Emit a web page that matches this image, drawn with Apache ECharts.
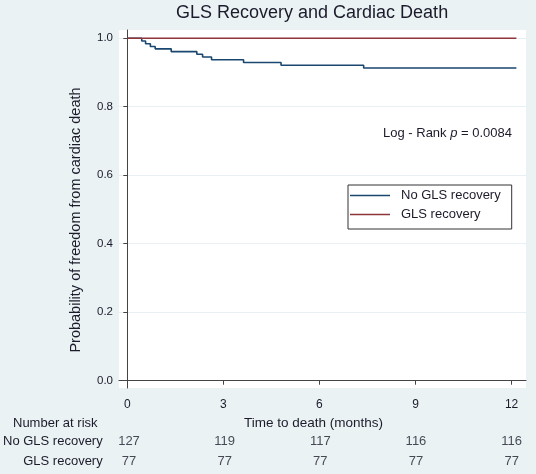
<!DOCTYPE html>
<html>
<head>
<meta charset="utf-8">
<script src="https://cdn.jsdelivr.net/npm/echarts@6/dist/echarts.min.js"></script>
<style>html,body{margin:0;padding:0;background:#eaf2f4;}#c{width:536px;height:474px;}</style>
</head>
<body>
<div id="c"></div>
<script>
// Kaplan-Meier estimates
const noRecTimes = [0, 0.45, 0.57, 0.72, 0.87, 1.37, 2.17, 2.35, 2.63, 3.63, 4.80, 7.38, 12.15];
const noRecSurv  = [1.000, 0.992, 0.984, 0.976, 0.969, 0.961, 0.953, 0.945, 0.937, 0.929, 0.921, 0.913, 0.913];
const recTimes = [0, 12.15];
const recSurv  = [1.000, 1.000];
const xTicks = [0, 3, 6, 9, 12];
const yTicks = [0, 0.2, 0.4, 0.6, 0.8, 1.0];
const riskTimes = [0, 3, 6, 9, 12];
const riskNoRec = [127, 119, 117, 116, 116];
const riskRec   = [77, 77, 77, 77, 77];
const groupNames = ['No GLS recovery', 'GLS recovery'];

const txt = '#1b1b2b';
const font = 'Liberation Sans, Arial, sans-serif';
const zip = (a, b) => a.map((v, i) => [v, b[i]]);

const chart = echarts.init(document.getElementById('c'));
chart.setOption({
  backgroundColor: '#eaf2f4',
  animation: false,
  textStyle: { fontFamily: font },
  title: [
    { text: 'GLS Recovery and Cardiac Death', left: 176, top: 4, padding: 0,
      textStyle: { fontSize: 18, fontWeight: 'normal', color: txt, fontFamily: font } },
    { text: 'Log - Rank {i|p} = 0.0084', left: 383, top: 127, padding: 0,
      textStyle: { fontSize: 13, fontWeight: 'normal', color: txt, fontFamily: font,
        rich: { i: { fontStyle: 'italic', fontSize: 13, color: txt, fontFamily: font } } } },
    { text: 'Number at risk', left: 13, top: 417, padding: 0,
      textStyle: { fontSize: 13, fontWeight: 'normal', color: txt, fontFamily: font } }
  ],
  legend: {
    data: groupNames,
    orient: 'vertical', left: 348, top: 185, icon: 'rect',
    backgroundColor: '#fff', borderColor: '#333', borderWidth: 1, borderRadius: 0,
    padding: [4, 11, 8, 2], itemWidth: 40, itemHeight: 1.6, itemGap: 6,
    textStyle: { fontSize: 13, color: txt, fontFamily: font, padding: [0, 0, 0, 6] }
  },
  grid: [
    { left: 119, top: 30, width: 407, height: 358, show: true, backgroundColor: '#fff', borderWidth: 0 },
    { left: 119, top: 431, width: 407, height: 40 }
  ],
  xAxis: [
    { type: 'value', gridIndex: 0, min: -0.26, max: 12.45,
      name: 'Time to death (months)', nameLocation: 'middle', nameGap: 23,
      nameTextStyle: { fontSize: 13.5, color: txt, fontFamily: font, padding: [0, 18, 0, 0] },
      axisLine: { show: true, lineStyle: { color: '#444', width: 1 } },
      axisTick: { show: true, length: 4, customValues: xTicks, lineStyle: { color: '#444' } },
      axisLabel: { customValues: xTicks, margin: 11, fontSize: 12, color: txt, fontFamily: font },
      splitLine: { show: false } },
    { type: 'value', gridIndex: 1, min: -0.26, max: 12.45, show: false }
  ],
  yAxis: [
    { type: 'value', gridIndex: 0, min: -0.0213, max: 1.024,
      name: 'Probability of freedom from cardiac death', nameLocation: 'middle', nameGap: 36,
      nameTextStyle: { fontSize: 14.5, color: txt, fontFamily: font, padding: [0, 22, 0, 0] },
      axisLine: { show: true, lineStyle: { color: '#444', width: 1 } },
      axisTick: { show: true, length: 4, customValues: yTicks, lineStyle: { color: '#444' } },
      axisLabel: { customValues: yTicks, margin: 6, fontSize: 11.5, color: txt, fontFamily: font,
        formatter: v => v.toFixed(1) },
      splitLine: { show: true, customValues: yTicks, lineStyle: { color: '#e9f0f3', width: 1 } } },
    { type: 'category', gridIndex: 1, data: groupNames, inverse: true,
      axisLine: { show: false }, axisTick: { show: false },
      axisLabel: { margin: 18, fontSize: 13, color: txt, fontFamily: font } }
  ],
  series: [
    { name: groupNames[0], type: 'line', step: 'end', xAxisIndex: 0, yAxisIndex: 0,
      data: zip(noRecTimes, noRecSurv), symbol: 'none', lineStyle: { color: '#1a476f', width: 1.6 },
      itemStyle: { color: '#1a476f' } },
    { name: groupNames[1], type: 'line', step: 'end', xAxisIndex: 0, yAxisIndex: 0,
      data: zip(recTimes, recSurv), symbol: 'none', lineStyle: { color: '#90353b', width: 1.6 },
      itemStyle: { color: '#90353b' } },
    { type: 'scatter', xAxisIndex: 1, yAxisIndex: 1, symbolSize: 0, silent: true,
      data: riskTimes.map((t, i) => [t, groupNames[0], riskNoRec[i]]).concat(
            riskTimes.map((t, i) => [t, groupNames[1], riskRec[i]])),
      label: { show: true, position: 'inside', formatter: p => p.value[2],
        fontSize: 13, color: txt, fontFamily: font } }
  ]
});
</script>
</body>
</html>
